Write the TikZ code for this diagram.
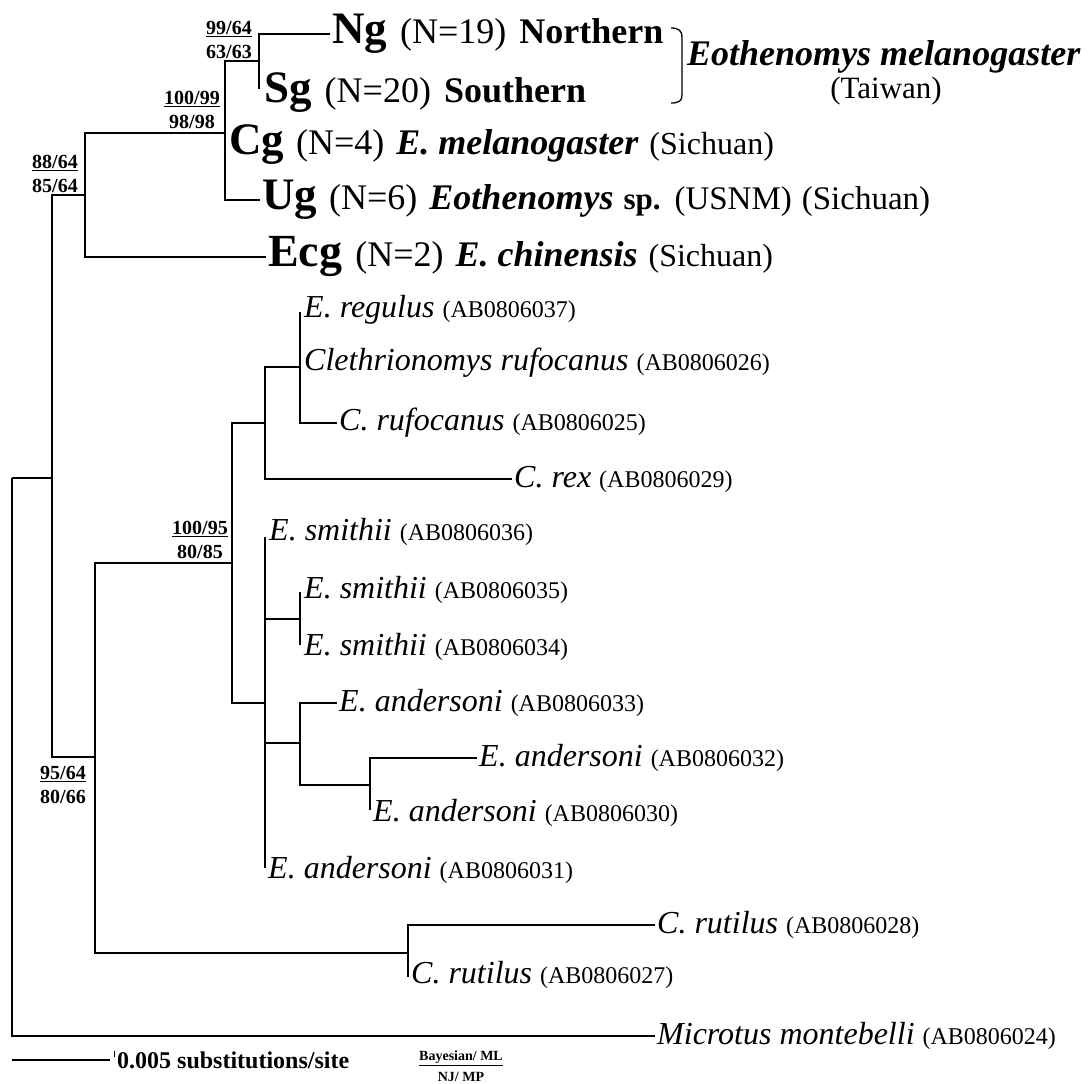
\documentclass[tikz,border=0pt]{standalone}
\usepackage{fontspec}
\setmainfont{Liberation Serif}
\newcommand{\myfs}[1]{\fontsize{#1}{#1}\selectfont}
\newcommand{\accn}[1]{{\myfs{24}\upshape\mdseries (#1)}}
\begin{document}
\begin{tikzpicture}[x=1pt,y=-1pt,
  br/.style={line width=1.6pt},
  leaf/.style={anchor=west,inner sep=2pt,font=\myfs{32}\itshape},
  clade/.style={anchor=west,inner sep=2pt},
  supp/.style={align=center,inner sep=0pt,font=\fontsize{20}{24}\selectfont\bfseries}
]
\path[use as bounding box] (0,0) rectangle (1090,1084);

% internal nodes
\coordinate (n0) at (12,478);
\coordinate (nIn) at (52,478);
\coordinate (n88) at (85,195);
\coordinate (n100) at (225,133);
\coordinate (n99) at (259,61);
\coordinate (sgEnd) at (259,89);
\coordinate (n95) at (95,757);
\coordinate (nE) at (232,563);
\coordinate (nCl) at (265,423);
\coordinate (nRu) at (300,367);
\coordinate (ruTop) at (300,312);
\coordinate (nSm) at (265,703);
\coordinate (smTop) at (265,537);
\coordinate (smBot) at (265,868);
\coordinate (nS2) at (300,619);
\coordinate (s2Top) at (300,592);
\coordinate (s2Bot) at (300,645);
\coordinate (nA) at (300,743);
\coordinate (nA2) at (370,785);
\coordinate (a2Bot) at (370,810);
\coordinate (nR) at (408,953);
\coordinate (rBot) at (408,977);

% upper clade labels
\node[clade] (ng) at (330,34) {{\myfs{45}\bfseries Ng}\hspace{13pt}{\myfs{36}(N=19)}\hspace{13pt}{\myfs{36}\bfseries Northern}};
\node[clade] (sg) at (262,93) {{\myfs{45}\bfseries Sg}\hspace{13pt}{\myfs{36}(N=20)}\hspace{13pt}{\myfs{36}\bfseries Southern}};
\node[clade] (cg) at (227,145) {{\myfs{45}\bfseries Cg}\hspace{12pt}{\myfs{36}(N=4)}\hspace{12pt}{\myfs{36}\bfseries\itshape E. melanogaster}\hspace{11pt}{\myfs{32}(Sichuan)}};
\node[clade] (ug) at (260,200) {{\myfs{45}\bfseries Ug}\hspace{12pt}{\myfs{36}(N=6)}\hspace{12pt}{\myfs{36}\bfseries\itshape Eothenomys}\hspace{10pt}{\myfs{31}\bfseries sp.}\hspace{14pt}{\myfs{33}(USNM)}\hspace{10pt}{\myfs{33}(Sichuan)}};
\node[clade] (ecg) at (266,257) {{\myfs{46}\bfseries Ecg}\hspace{13pt}{\myfs{36}(N=2)}\hspace{12pt}{\myfs{36}\bfseries\itshape E. chinensis}\hspace{11pt}{\myfs{32}(Sichuan)}};

% bracket and species name
\coordinate (bkT) at (671,28);
\coordinate (bkB) at (671,103);
\draw[line width=1.3pt] (bkT) .. controls (679,28) and (682,31) .. (682,37) -- (682,95) .. controls (682,101) and (679,103) .. (bkB);
\node[anchor=west,inner sep=0pt,font=\myfs{36}\bfseries\itshape] (em) at (687,57) {Eothenomys melanogaster};
\node[inner sep=0pt,font=\myfs{31}] (tw) at (886,91) {(Taiwan)};

% lower leaves
\node[leaf] (reg) at (302,310) {E. regulus \accn{AB0806037}};
\node[leaf] (cle) at (302,363) {Clethrionomys rufocanus \accn{AB0806026}};
\node[leaf] (ruf) at (337,423) {C. rufocanus \accn{AB0806025}};
\node[leaf] (rex) at (512,479) {C. rex \accn{AB0806029}};
\node[leaf] (sm36) at (267,532) {E. smithii \accn{AB0806036}};
\node[leaf] (sm35) at (302,590) {E. smithii \accn{AB0806035}};
\node[leaf] (sm34) at (302,647) {E. smithii \accn{AB0806034}};
\node[leaf] (an33) at (337,703) {E. andersoni \accn{AB0806033}};
\node[leaf] (an32) at (477,758) {E. andersoni \accn{AB0806032}};
\node[leaf] (an30) at (371,813) {E. andersoni \accn{AB0806030}};
\node[leaf] (an31) at (266,870) {E. andersoni \accn{AB0806031}};
\node[leaf] (ru28) at (655,925) {C. rutilus \accn{AB0806028}};
\node[leaf] (ru27) at (409,975) {C. rutilus \accn{AB0806027}};
\node[leaf] (mic) at (655,1036) {Microtus montebelli \accn{AB0806024}};

% branches
\draw[br] (n0) -- (nIn);
\draw[br] (n0) |- (mic.west);
\draw[br] (nIn) |- (n88);
\draw[br] (nIn) |- (n95);
\draw[br] (n88) |- (n100);
\draw[br] (n88) |- (ecg.west);
\draw[br] (n100) |- (n99);
\draw[br] (n100) |- (ug.west);
\draw[br] (n99) |- (ng.west);
\draw[br] (n99) -- (sgEnd);
\draw[br] (n95) |- (nE);
\draw[br] (n95) |- (nR);
\draw[br] (nE) |- (nCl);
\draw[br] (nE) |- (nSm);
\draw[br] (nCl) |- (nRu);
\draw[br] (nCl) |- (rex.west);
\draw[br] (nRu) -- (ruTop);
\draw[br] (nRu) |- (ruf.west);
\draw[br] (nSm) -- (smTop);
\draw[br] (nSm) -- (smBot);
\draw[br] (nSm) |- (nS2);
\draw[br] (nSm) |- (nA);
\draw[br] (nS2) -- (s2Top);
\draw[br] (nS2) -- (s2Bot);
\draw[br] (nA) |- (an33.west);
\draw[br] (nA) |- (nA2);
\draw[br] (nA2) |- (an32.west);
\draw[br] (nA2) -- (a2Bot);
\draw[br] (nR) |- (ru28.west);
\draw[br] (nR) -- (rBot);

% support values
\node[supp] (s1) at (229,40) {\underline{99/64}\\63/63};
\node[supp] (s2) at (192,110) {\underline{100/99}\\98/98};
\node[supp] (s3) at (55,174) {\underline{88/64}\\85/64};
\node[supp] (s4) at (200,540) {\underline{100/95}\\80/85};
\node[supp] (s5) at (63,785) {\underline{95/64}\\80/66};

% scale bar and legend
\coordinate (sb0) at (12,1060);
\coordinate (sb1) at (110,1060);
\draw[line width=1.2pt] (sb0) -- (sb1);
\coordinate (tk0) at (114,1051);
\coordinate (tk1) at (114,1057);
\draw[line width=1pt] (tk0) -- (tk1);
\node[anchor=west,inner sep=0pt,font=\myfs{24}\bfseries] (sbt) at (117,1060) {0.005 substitutions/site};
\node[align=center,inner sep=0pt,font=\fontsize{14}{21}\selectfont\bfseries] (leg) at (461,1066) {\underline{Bayesian/ ML}\\NJ/ MP};
\end{tikzpicture}
\end{document}
